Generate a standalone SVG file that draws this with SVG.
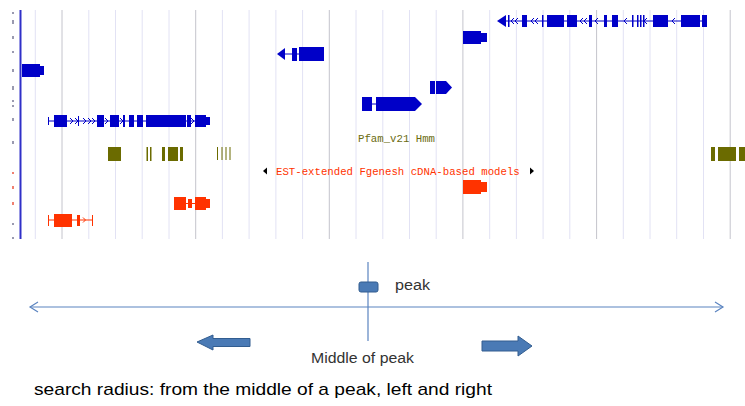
<svg xmlns="http://www.w3.org/2000/svg" width="745" height="406" viewBox="0 0 745 406">
<style>
.g{stroke:#e2e2f4;stroke-width:1}
.gd{stroke:#c4c4cc;stroke-width:1}
.b{fill:#0000c8}
.bl{stroke:#0000c8;stroke-width:1;fill:none}
.r{fill:#ff3300}
.rl{stroke:#ff3300;stroke-width:1;fill:none}
.o{fill:#6b6b00}
.mono{font-family:"Liberation Mono","DejaVu Sans Mono",monospace;font-size:10.7px}
.lab{font-family:"Liberation Sans",Arial,sans-serif;font-size:14px;fill:#333}
.blk{fill:#4a7ab5;stroke:#325d90;stroke-width:1}
.ax{stroke:#5b84c0;stroke-width:1.2;fill:none}
.tk{fill:#9a9ab0}
.tkr{fill:#f08070}
</style>
<rect width="745" height="406" fill="#fff"/>
<g id="grid">
<line class="g" x1="35.3" y1="10" x2="35.3" y2="239"/>
<line class="gd" x1="62" y1="10" x2="62" y2="239"/>
<line class="g" x1="88.8" y1="10" x2="88.8" y2="239"/>
<line class="g" x1="115.5" y1="10" x2="115.5" y2="239"/>
<line class="g" x1="142.2" y1="10" x2="142.2" y2="239"/>
<line class="g" x1="169" y1="10" x2="169" y2="239"/>
<line class="gd" x1="195.7" y1="10" x2="195.7" y2="239"/>
<line class="g" x1="222.4" y1="10" x2="222.4" y2="239"/>
<line class="g" x1="249.1" y1="10" x2="249.1" y2="239"/>
<line class="g" x1="275.9" y1="10" x2="275.9" y2="239"/>
<line class="g" x1="302.6" y1="10" x2="302.6" y2="239"/>
<line class="gd" x1="329.3" y1="10" x2="329.3" y2="239"/>
<line class="g" x1="356" y1="10" x2="356" y2="239"/>
<line class="g" x1="382.8" y1="10" x2="382.8" y2="239"/>
<line class="g" x1="409.5" y1="10" x2="409.5" y2="239"/>
<line class="g" x1="436.2" y1="10" x2="436.2" y2="239"/>
<line class="gd" x1="462.9" y1="10" x2="462.9" y2="239"/>
<line class="g" x1="489.7" y1="10" x2="489.7" y2="239"/>
<line class="g" x1="516.4" y1="10" x2="516.4" y2="239"/>
<line class="g" x1="543.1" y1="10" x2="543.1" y2="239"/>
<line class="g" x1="569.8" y1="10" x2="569.8" y2="239"/>
<line class="gd" x1="596.6" y1="10" x2="596.6" y2="239"/>
<line class="g" x1="623.3" y1="10" x2="623.3" y2="239"/>
<line class="g" x1="650" y1="10" x2="650" y2="239"/>
<line class="g" x1="676.7" y1="10" x2="676.7" y2="239"/>
<line class="g" x1="703.5" y1="10" x2="703.5" y2="239"/>
<line class="gd" x1="730.2" y1="10" x2="730.2" y2="239"/>
<line x1="20.5" y1="10" x2="20.5" y2="239" stroke="#3030c8" stroke-width="2"/>
<rect class="tk" x="12" y="12" width="2" height="2"/>
<rect class="tk" x="12" y="20" width="2" height="4"/>
<rect class="tk" x="12" y="36" width="2" height="3"/>
<rect class="tk" x="12" y="51" width="2" height="2"/>
<rect class="tk" x="12" y="69" width="2" height="3"/>
<rect class="tk" x="12" y="86" width="2" height="4"/>
<rect class="tk" x="12" y="100" width="2" height="2"/>
<rect class="tk" x="12" y="105" width="2" height="2"/>
<rect class="tk" x="12" y="118" width="2" height="3"/>
<rect class="tk" x="12" y="141" width="2" height="3"/>
<rect class="tkr" x="12" y="172" width="2" height="2"/>
<rect class="tkr" x="12" y="186" width="2" height="3"/>
<rect class="tkr" x="12" y="202" width="2" height="3"/>
<rect class="tk" x="12" y="223" width="2" height="2"/>
<rect class="tk" x="12" y="237" width="2" height="2"/>
</g>
<g id="gene-top-right">
<line class="bl" x1="500" y1="21" x2="707" y2="21"/>
<path class="b" d="M497,21 L506,15 L506,27 Z"/>
<path class="bl" d="M514,18 l-3,3 l3,3 M518,18 l-3,3 l3,3 M534,18 l-3,3 l3,3 M538,18 l-3,3 l3,3 M583,18 l-3,3 l3,3 M587,18 l-3,3 l3,3 M598,18 l-3,3 l3,3 M627,18 l-3,3 l3,3 M647,18 l-3,3 l3,3 M675,18 l-3,3 l3,3"/>
<rect class="b" x="508" y="15" width="1.5" height="12"/>
<rect class="b" x="522" y="15" width="5" height="12"/>
<rect class="b" x="542" y="15" width="1.5" height="12"/>
<rect class="b" x="547" y="15" width="17" height="12"/>
<rect class="b" x="567" y="15" width="10" height="12"/>
<rect class="b" x="589" y="15" width="3" height="12"/>
<rect class="b" x="604" y="15" width="3" height="12"/>
<rect class="b" x="612" y="15" width="6" height="12"/>
<rect class="b" x="632" y="15" width="1.5" height="12"/>
<rect class="b" x="637" y="15" width="1.5" height="12"/>
<rect class="b" x="640" y="15" width="1.5" height="12"/>
<rect class="b" x="643" y="15" width="1.5" height="12"/>
<rect class="b" x="653" y="15" width="15" height="12"/>
<rect class="b" x="681" y="15" width="19" height="12"/>
<rect class="b" x="702" y="15" width="5" height="12"/>
</g>
<g id="gene-b1">
<rect class="b" x="463" y="31" width="18" height="13"/>
<rect class="b" x="481" y="33" width="6" height="9"/>
</g>
<g id="gene-b2">
<line class="bl" x1="284" y1="54" x2="299" y2="54"/>
<path class="b" d="M277,54 L285,48 L285,60 Z"/>
<rect class="b" x="292" y="48" width="5" height="13"/>
<rect class="b" x="299" y="47" width="25" height="14"/>
</g>
<g id="gene-b3">
<rect class="b" x="22" y="64" width="18" height="13"/>
<rect class="b" x="40" y="66" width="4" height="9"/>
</g>
<g id="gene-b4">
<rect class="b" x="430" y="81" width="5" height="13"/>
<rect class="b" x="436" y="81" width="5" height="13"/>
<path class="b" d="M441,81 L446,81 L452,87.5 L446,94 L441,94 Z"/>
</g>
<g id="gene-b5">
<line class="bl" x1="371" y1="104" x2="377" y2="104"/>
<rect class="b" x="362" y="97" width="10" height="14"/>
<path class="b" d="M376,97 L415,97 L422,104 L415,111 L376,111 Z"/>
</g>
<g id="gene-b6">
<line class="bl" x1="48" y1="121" x2="208" y2="121"/>
<line class="bl" x1="48.5" y1="117" x2="48.5" y2="125"/>
<line class="bl" x1="78.5" y1="116" x2="78.5" y2="126"/>
<path class="bl" d="M70,118 l3,3 l-3,3 M75,118 l3,3 l-3,3 M83,118 l3,3 l-3,3 M88,118 l3,3 l-3,3 M92,118 l3,3 l-3,3 M105,118 l3,3 l-3,3 M120,118 l3,3 l-3,3 M191,118 l3,3 l-3,3"/>
<rect class="b" x="54" y="115" width="13" height="12"/>
<rect class="b" x="97" y="115" width="7" height="12"/>
<rect class="b" x="110" y="115" width="9" height="12"/>
<rect class="b" x="123" y="115" width="2" height="12"/>
<rect class="b" x="129" y="115" width="5" height="12"/>
<rect class="b" x="137" y="115" width="6" height="12"/>
<rect class="b" x="146" y="115" width="40" height="12"/>
<rect class="b" x="187" y="115" width="4" height="12"/>
<rect class="b" x="195" y="115" width="11" height="12"/>
<rect class="b" x="206" y="117" width="4" height="8"/>
</g>
<g id="pfam">
<text class="mono" x="358" y="142" fill="#6b6b10">Pfam_v21 Hmm</text>
<rect class="o" x="108" y="147" width="13" height="14"/>
<rect class="o" x="146.5" y="147" width="1.5" height="14"/>
<rect class="o" x="150" y="147" width="1.5" height="14"/>
<rect class="o" x="162" y="147" width="3" height="14"/>
<rect class="o" x="168" y="147" width="10" height="14"/>
<rect class="o" x="180" y="147" width="3" height="14"/>
<rect class="o" x="217" y="147" width="1" height="13"/>
<rect class="o" x="221.5" y="147" width="1" height="13"/>
<rect class="o" x="225.5" y="147" width="1" height="13"/>
<rect class="o" x="229.5" y="147" width="1" height="13"/>
<rect class="o" x="711" y="147" width="4" height="14"/>
<rect class="o" x="718" y="147" width="18" height="14"/>
<rect class="o" x="739" y="147" width="6" height="14"/>
</g>
<g id="est">
<path d="M263,171 L267,167.5 L267,174.5 Z" fill="#000"/>
<text class="mono" x="276" y="175" fill="#ff3300">EST-extended Fgenesh cDNA-based models</text>
<path d="M534,171 L530,167.5 L530,174.5 Z" fill="#000"/>
<rect class="r" x="463" y="180" width="18" height="14"/>
<rect class="r" x="481" y="182" width="6" height="10"/>
<rect class="r" x="174" y="197" width="12" height="13"/>
<rect class="r" x="188" y="199" width="4" height="9"/>
<line class="rl" x1="185" y1="203.5" x2="196" y2="203.5"/>
<rect class="r" x="195" y="197" width="11" height="13"/>
<rect class="r" x="206" y="199" width="4" height="9"/>
<line class="rl" x1="48" y1="220" x2="93" y2="220"/>
<line class="rl" x1="48.5" y1="215" x2="48.5" y2="226"/>
<line class="rl" x1="92.5" y1="215" x2="92.5" y2="226"/>
<rect class="r" x="54" y="214" width="18" height="13"/>
<rect class="r" x="77" y="215" width="3" height="11"/>
<path class="rl" d="M83,217.5 l2.5,2.5 l-2.5,2.5"/>
</g>
<g id="peak">
<line class="ax" x1="368" y1="262" x2="368" y2="341"/>
<rect class="blk" x="359" y="282" width="19" height="10" rx="2"/>
<text class="lab" x="395" y="290" textLength="35" lengthAdjust="spacingAndGlyphs">peak</text>
</g>
<g id="connectors">
<line class="ax" x1="30" y1="307" x2="723" y2="307"/>
<path class="ax" d="M38,302 L30,307 L38,312"/>
<path class="ax" d="M715,302 L723,307 L715,312"/>
<path class="blk" d="M197,342 L213,335 L213,338.5 L250,338.5 L250,346.5 L213,346.5 L213,350 Z"/>
<path class="blk" d="M532,346 L518,336 L518,341 L482,341 L482,351 L518,351 L518,356 Z"/>
</g>
<g id="middle">
<text class="lab" x="311" y="363" textLength="103" lengthAdjust="spacingAndGlyphs">Middle of peak</text>
</g>
<text x="34" y="395" font-family="'Liberation Sans',Arial,sans-serif" font-size="17" fill="#000" textLength="458" lengthAdjust="spacingAndGlyphs">search radius: from the middle of a peak, left and right</text>
</svg>
